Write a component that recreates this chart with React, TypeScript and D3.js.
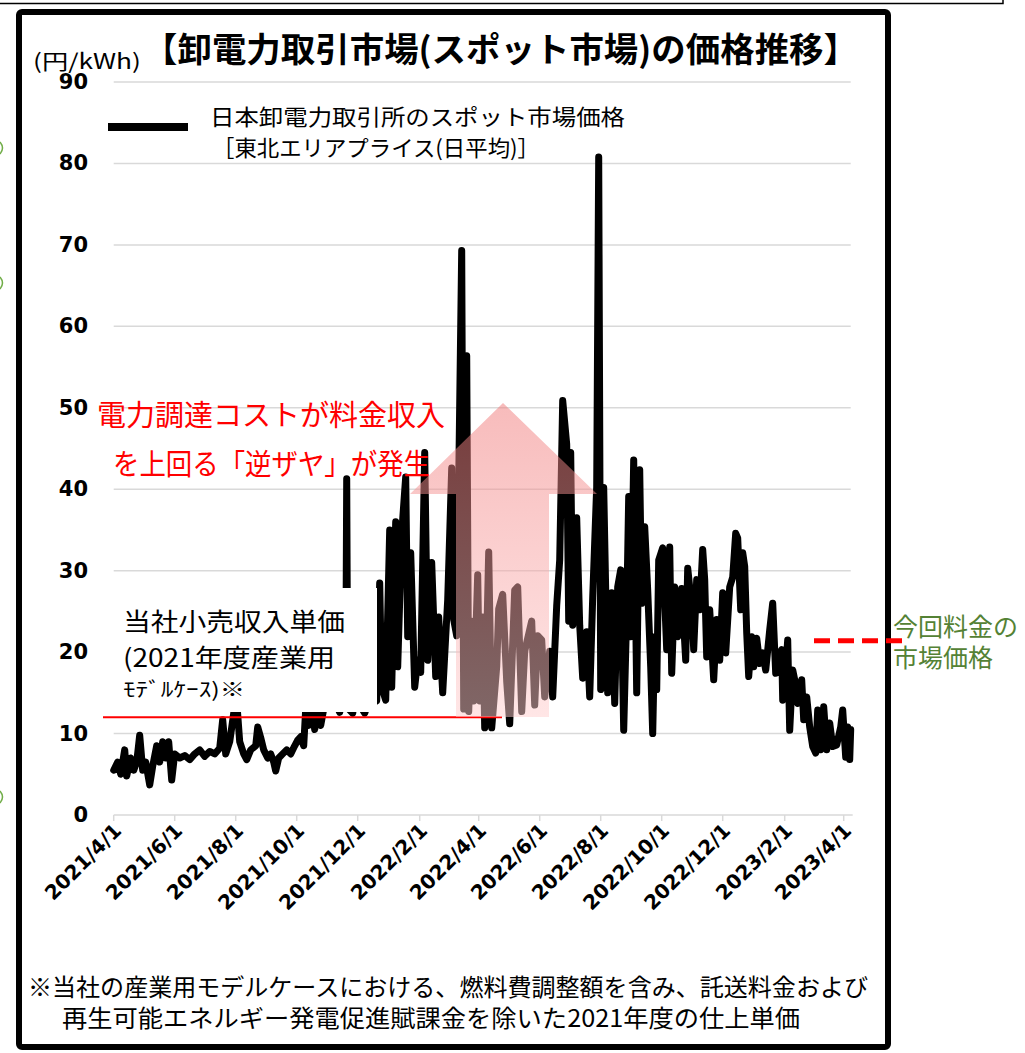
import React, { useEffect, useRef } from 'react';
import * as d3 from 'd3';

// JEPX spot price, Tohoku area (daily average), yen/kWh
// dayIndex = days since 2021/4/1
const startDay = new Date(2021, 3, 1);
const endDay = new Date(2023, 3, 8);

const dayIndex = [
  0, 4, 7, 11, 13, 17, 20, 23, 26, 29, 32, 36, 39, 43, 46, 49, 52, 55, 58, 61,
  66, 71, 76, 81, 86, 91, 96, 101, 106, 109, 112, 116, 120, 123, 126, 130, 133, 137, 142, 144,
  147, 150, 154, 157, 160, 162, 165, 169, 173, 177, 181, 184, 187, 190, 192, 195, 198, 201, 204, 207,
  210, 213, 217, 221, 226, 229, 232, 233, 234, 235, 239, 242, 246, 251, 255, 259, 263, 266, 268, 272,
  276, 278, 282, 284, 288, 292, 294, 297, 301, 304, 307, 311, 314, 318, 322, 325, 329, 332, 334, 338,
  340, 343, 348, 350, 353, 355, 358, 360, 364, 366, 369, 371, 375, 378, 383, 385, 389, 393, 396, 401,
  404, 408, 411, 418, 421, 424, 428, 431, 436, 439, 443, 446, 449, 453, 455, 457, 459, 463, 466, 469,
  473, 476, 479, 483, 485, 487, 490, 494, 498, 501, 504, 507, 510, 513, 515, 517, 520, 523, 526, 528,
  531, 534, 537, 539, 541, 543, 545, 549, 551, 553, 556, 558, 561, 564, 568, 572, 574, 578, 580, 583,
  586, 589, 591, 593, 596, 600, 603, 606, 609, 612, 616, 619, 622, 624, 627, 629, 631, 633, 635, 638,
  640, 643, 646, 649, 652, 656, 659, 662, 664, 668, 669, 672, 674, 676, 679, 681, 684, 688, 690, 693,
  696, 699, 702, 704, 707, 710, 713, 716, 719, 723, 727, 729, 732, 734, 736, 737,
];
const price = [
  5.5, 6.5, 5.0, 8.0, 4.8, 7.0, 5.5, 6.5, 9.8, 5.5, 6.5, 3.7, 6.0, 8.5, 6.5, 9.0, 7.0, 9.0, 4.3, 7.5,
  7.0, 7.3, 6.8, 7.5, 8.0, 7.2, 7.8, 7.5, 8.2, 11.7, 7.5, 9.0, 12.5, 14.0, 9.0, 7.5, 6.8, 8.0, 8.5, 10.8,
  9.5, 8.0, 7.0, 7.5, 6.5, 5.4, 7.0, 7.5, 8.0, 7.5, 8.5, 9.2, 9.6, 8.5, 13.0, 11.0, 13.5, 10.5, 14.0, 11.0,
  13.0, 15.0, 16.0, 14.0, 12.6, 15.0, 14.0, 41.3, 14.0, 13.0, 12.5, 15.0, 13.5, 12.5, 14.0, 16.0, 14.0, 28.5, 15.7, 14.1,
  35.0, 15.7, 36.0, 18.2, 34.6, 41.5, 21.9, 32.2, 15.7, 19.0, 17.5, 44.5, 19.0, 31.0, 17.0, 24.3, 15.0, 21.9, 26.4, 42.6,
  24.0, 22.0, 69.3, 13.0, 56.4, 12.7, 23.8, 14.0, 29.5, 14.0, 24.3, 10.7, 32.3, 10.7, 18.2, 25.3, 27.1, 16.4, 11.2, 27.6,
  28.0, 12.7, 20.1, 23.8, 13.5, 22.0, 21.5, 14.5, 20.1, 14.5, 25.7, 31.3, 50.9, 45.5, 23.8, 44.5, 23.3, 36.5, 23.3, 16.8,
  22.5, 14.5, 26.7, 40.3, 80.8, 15.4, 40.2, 15.0, 27.3, 13.7, 28.0, 30.1, 10.4, 24.8, 39.1, 21.9, 43.6, 15.0, 42.4, 26.0,
  35.4, 27.6, 18.2, 10.0, 21.9, 15.4, 31.3, 32.8, 26.4, 20.3, 32.9, 17.4, 28.0, 21.9, 27.8, 19.0, 30.3, 25.6, 20.3, 28.9,
  25.2, 32.6, 28.9, 19.4, 25.2, 16.6, 24.0, 19.0, 27.3, 19.9, 28.0, 29.2, 34.6, 34.0, 25.2, 32.2, 30.5, 22.4, 17.0, 21.9,
  18.2, 21.7, 18.6, 19.9, 17.8, 22.7, 26.0, 17.4, 19.4, 20.3, 14.1, 17.8, 21.5, 10.4, 17.8, 16.6, 13.7, 16.6, 11.7, 14.5,
  10.8, 8.4, 7.6, 12.9, 8.0, 13.3, 8.0, 11.3, 8.4, 8.6, 10.8, 12.9, 7.1, 10.8, 6.8, 10.5,
];

const yTicks = [0, 10, 20, 30, 40, 50, 60, 70, 80, 90];
const xTickLabels = [
  '2021/4/1', '2021/6/1', '2021/8/1', '2021/10/1', '2021/12/1', '2022/2/1', '2022/4/1',
  '2022/6/1', '2022/8/1', '2022/10/1', '2022/12/1', '2023/2/1', '2023/4/1',
];
const retailUnitPrice = 12.0; // 当社小売収入単価
const currentMarketPrice = 21.4; // 今回料金の市場価格

const JP = "'Noto Sans CJK JP', sans-serif";
const NUM = "'DejaVu Sans', Verdana, sans-serif";

function parseLabel(s: string) {
  const [y, m, d] = s.split('/').map(Number);
  return new Date(y, m - 1, d);
}

function SpotPriceChart() {
  const ref = useRef<SVGSVGElement>(null);
  useEffect(() => {
    const svg = d3.select(ref.current);
    svg.selectAll('*').remove();

    const x = d3.scaleTime().domain([startDay, endDay]).range([113.7, 850.7]);
    const y = d3.scaleLinear().domain([0, 90]).range([815, 82]);

    const data = dayIndex.map((d, i) => ({ date: d3.timeDay.offset(startDay, d), v: price[i] }));

    // gradient for the arrow
    const defs = svg.append('defs');
    const grad = defs.append('linearGradient').attr('id', 'arrowGrad')
      .attr('x1', 0).attr('y1', 0).attr('x2', 0).attr('y2', 1);
    grad.append('stop').attr('offset', '0%').attr('stop-color', 'rgb(240,120,120)');
    grad.append('stop').attr('offset', '100%').attr('stop-color', 'rgb(255,205,205)');

    // outer frames
    svg.append('path').attr('d', 'M0,3.5H1003V0').attr('fill', 'none').attr('stroke', '#000').attr('stroke-width', 1.5);
    svg.append('rect').attr('x', 19).attr('y', 12).attr('width', 869).attr('height', 1035).attr('rx', 3)
      .attr('fill', '#fff').attr('stroke', '#000').attr('stroke-width', 6);

    // green bits of the neighbouring chart at the left edge
    [148, 283, 797].forEach(cy => {
      svg.append('path').attr('d', `M0,${cy - 6} Q5,${cy} 0,${cy + 6}`)
        .attr('fill', 'none').attr('stroke', '#70ad47').attr('stroke-width', 1.5);
    });

    // gridlines
    svg.append('g').selectAll('line').data(yTicks.filter(d => d > 0)).enter().append('line')
      .attr('x1', x.range()[0]).attr('x2', x.range()[1])
      .attr('y1', d => y(d)).attr('y2', d => y(d))
      .attr('stroke', '#d9d9d9').attr('stroke-width', 1.5);

    // x axis
    const tickDates = xTickLabels.map(parseLabel);
    svg.append('line').attr('x1', x.range()[0]).attr('x2', x.range()[1] + 2)
      .attr('y1', y(0)).attr('y2', y(0)).attr('stroke', '#d9d9d9').attr('stroke-width', 1.5);
    svg.append('g').selectAll('line').data(tickDates).enter().append('line')
      .attr('x1', d => x(d)).attr('x2', d => x(d)).attr('y1', y(0)).attr('y2', y(0) + 6)
      .attr('stroke', '#d9d9d9').attr('stroke-width', 1.5);
    svg.append('g').selectAll('text').data(xTickLabels).enter().append('text')
      .attr('transform', d => `translate(${x(parseLabel(d)) + 4},${y(0) + 12})rotate(-45)`)
      .attr('text-anchor', 'end').attr('dominant-baseline', 'central')
      .attr('font-family', NUM).attr('font-weight', 'bold').attr('font-size', 20)
      .text(d => d);

    // y labels
    svg.append('g').selectAll('text').data(yTicks).enter().append('text')
      .attr('x', 88).attr('y', d => y(d)).attr('text-anchor', 'end').attr('dominant-baseline', 'central')
      .attr('font-family', NUM).attr('font-weight', 'bold').attr('font-size', 21)
      .text(d => d);

    // price line
    const line = d3.line<{ date: Date; v: number }>().x(d => x(d.date)).y(d => y(d.v));
    svg.append('path').datum(data).attr('d', line)
      .attr('fill', 'none').attr('stroke', '#000').attr('stroke-width', 7)
      .attr('stroke-linejoin', 'round').attr('stroke-linecap', 'round');

    // annotation box for retail unit price
    svg.append('rect').attr('x', 105).attr('y', 588).attr('width', 272).attr('height', 124).attr('fill', '#fff');
    const ann = [
      { t: '当社小売収入単価', cy: 620, len: 222, fs: 25 },
      { t: '(2021年度産業用', cy: 656, len: 212, fs: 25 },
      { t: 'ﾓﾃﾞﾙｹｰｽ)※', cy: 688, len: 122, fs: 20 },
    ];
    svg.append('g').selectAll('text').data(ann).enter().append('text')
      .attr('x', 123).attr('y', d => d.cy).attr('dominant-baseline', 'central')
      .attr('font-family', JP).attr('font-size', d => d.fs)
      .attr('textLength', d => d.len).attr('lengthAdjust', 'spacingAndGlyphs')
      .text(d => d.t);

    // retail unit price line
    svg.append('line').attr('x1', 103).attr('x2', 502).attr('y1', y(retailUnitPrice)).attr('y2', y(retailUnitPrice))
      .attr('stroke', '#ff0000').attr('stroke-width', 2);

    // big arrow
    const tipY = 403, headY = 494, bottomY = 717;
    svg.append('path')
      .attr('d', `M503,${tipY}L597,${headY}L549,${headY}L549,${bottomY}L456,${bottomY}L456,${headY}L410,${headY}Z`)
      .attr('fill', 'url(#arrowGrad)').attr('fill-opacity', 0.5);

    const red = [
      { t: '電力調達コストが料金収入', x: 97, cy: 413, len: 348 },
      { t: 'を上回る「逆ザヤ」が発生', x: 113, cy: 462, len: 317 },
    ];
    svg.append('g').selectAll('text').data(red).enter().append('text')
      .attr('x', d => d.x).attr('y', d => d.cy).attr('dominant-baseline', 'central')
      .attr('font-family', JP).attr('font-size', 29).attr('fill', '#ff0000')
      .attr('textLength', d => d.len).attr('lengthAdjust', 'spacingAndGlyphs')
      .text(d => d.t);

    // legend
    svg.append('line').attr('x1', 108).attr('x2', 188).attr('y1', 127).attr('y2', 127)
      .attr('stroke', '#000').attr('stroke-width', 8);
    const leg = [
      { t: '日本卸電力取引所のスポット市場価格', x: 210, cy: 115, len: 415 },
      { t: '［東北エリアプライス(日平均)］', x: 212, cy: 146, len: 328 },
    ];
    svg.append('g').selectAll('text').data(leg).enter().append('text')
      .attr('x', d => d.x).attr('y', d => d.cy).attr('dominant-baseline', 'central')
      .attr('font-family', JP).attr('font-size', 22)
      .attr('textLength', d => d.len).attr('lengthAdjust', 'spacingAndGlyphs')
      .text(d => d.t);

    // title and unit
    svg.append('text').attr('x', 143).attr('y', 47).attr('dominant-baseline', 'central')
      .attr('font-family', JP).attr('font-weight', 'bold').attr('font-size', 34)
      .attr('textLength', 715).attr('lengthAdjust', 'spacingAndGlyphs')
      .text('【卸電力取引市場(スポット市場)の価格推移】');
    svg.append('text').attr('x', 33).attr('y', 60).attr('dominant-baseline', 'central')
      .attr('font-family', JP).attr('font-size', 21)
      .attr('textLength', 108).attr('lengthAdjust', 'spacingAndGlyphs')
      .text('(円/kWh)');

    // footnote
    const foot = [
      { t: '※当社の産業用モデルケースにおける、燃料費調整額を含み、託送料金および', x: 28, cy: 985, len: 840 },
      { t: '再生可能エネルギー発電促進賦課金を除いた2021年度の仕上単価', x: 62, cy: 1016, len: 738 },
    ];
    svg.append('g').selectAll('text').data(foot).enter().append('text')
      .attr('x', d => d.x).attr('y', d => d.cy).attr('dominant-baseline', 'central')
      .attr('font-family', JP).attr('font-size', 24)
      .attr('textLength', d => d.len).attr('lengthAdjust', 'spacingAndGlyphs')
      .text(d => d.t);

    // current market price marker (outside the frame)
    svg.append('line').attr('x1', 814).attr('x2', 909)
      .attr('y1', y(currentMarketPrice)).attr('y2', y(currentMarketPrice))
      .attr('stroke', '#ff0000').attr('stroke-width', 5).attr('stroke-dasharray', '16,8');
    svg.append('g').selectAll('text').data(['今回料金の', '市場価格']).enter().append('text')
      .attr('x', 893).attr('y', (d, i) => 625 + i * 31).attr('dominant-baseline', 'central')
      .attr('font-family', JP).attr('font-size', 25).attr('fill', '#548235')
      .text(d => d);
  }, []);

  return <svg ref={ref} width={1025} height={1053} style={{ display: 'block' }} />;
}

export default function App() {
  return (
    <div style={{ position: 'absolute', left: 0, top: 0, width: 1025, height: 1053, background: '#fff' }}>
      <SpotPriceChart />
    </div>
  );
}
